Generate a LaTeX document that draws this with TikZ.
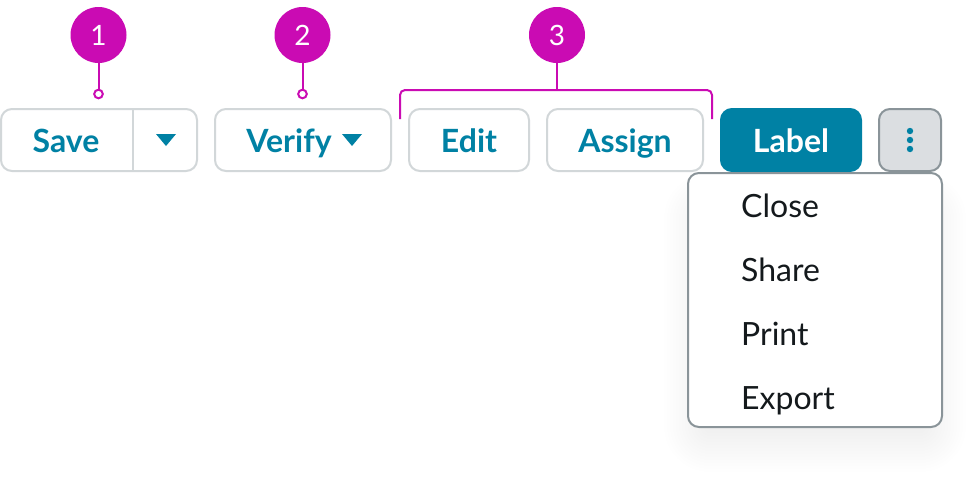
\documentclass[tikz,border=0pt]{standalone}
\usepackage{fontspec}
\setmainfont{Lato}
\definecolor{teal}{HTML}{0081A4}
\definecolor{mag}{HTML}{CA0BB3}
\definecolor{lightb}{HTML}{D2D7D9}
\definecolor{darkb}{HTML}{8A9499}
\definecolor{ink}{HTML}{14191C}
\definecolor{kebab}{HTML}{DBDEE1}
\tikzset{
  x=1pt,y=-1pt,
  btn/.style={draw=lightb,line width=2pt,fill=white,rounded corners=11pt,inner sep=0pt,minimum height=62pt},
  btntext/.style={anchor=base,inner sep=0pt,text=teal,font=\fontsize{32}{32}\selectfont\bfseries},
  badge/.style={circle,fill=mag,text=white,minimum size=56pt,inner sep=0pt,font=\fontsize{28}{28}\selectfont},
  lead/.style={draw=mag,line width=2pt},
  tipdot/.style={circle,draw=mag,line width=2pt,fill=white,minimum size=8.6pt,inner sep=0pt},
  caret/.style={fill=teal},
  item/.style={anchor=base west,inner sep=0pt,text=ink,font=\fontsize{32}{32}\selectfont},
}
\begin{document}
\begin{tikzpicture}
\useasboundingbox (0,0) rectangle (975,485);
\fill[white] (0,0) rectangle (975,485);
% buttons
\node[btn,minimum width=196pt] (save) at (99,140) {};
\node[btntext] (savet) at (66,152) {Save};
\coordinate (divt) at (133,109);
\coordinate (divb) at (133,171);
\draw[lightb,line width=2pt] (divt) -- (divb);
\fill[caret] (156,134) -- (176,134) -- (166,146) -- cycle;
\node[btn,minimum width=176pt] (verify) at (303,140) {};
\node[btntext] (verifyt) at (289,152) {Verify};
\fill[caret] (342,134) -- (362,134) -- (352,146) -- cycle;
\node[btn,minimum width=120pt] (edit) at (469,140) {};
\node[btntext] (editt) at (469,152) {Edit};
\node[btn,minimum width=156pt] (assign) at (625,140) {};
\node[btntext] (assignt) at (625,152) {Assign};
\node[btn,draw=teal,fill=teal,minimum width=140pt] (label) at (791,140) {};
\node[btntext,text=white] (labelt) at (791,152) {Label};
\node[btn,draw=darkb,fill=kebab,minimum width=62pt] (more) at (910,140) {};
\fill[teal] (910,131) circle (3.2pt) (910,140) circle (3.2pt) (910,149) circle (3.2pt);
% shadow
\foreach \g in {42,39,...,0}{
  \fill[black,opacity=0.0042,rounded corners=\g pt+4pt] (706-\g,215-\g) rectangle (924+\g,430+\g);
}
% menu
\node[draw=darkb,line width=2pt,fill=white,rounded corners=11pt,minimum width=254pt,minimum height=254pt,inner sep=0pt] (menu) at (815,300) {};
\node[item] (close) at (741,217) {Close};
\node[item] (share) at (741,281) {Share};
\node[item] (print) at (741,345) {Print};
\node[item] (export) at (741,409) {Export};
% badges
\node[badge] (b1) at (98.5,35) {1};
\node[badge] (b2) at (302.5,35) {2};
\node[badge] (b3) at (557,35) {3};
\node[tipdot] (d1) at (98.5,94) {};
\node[tipdot] (d2) at (302.5,94) {};
\draw[lead] (b1) -- (d1);
\draw[lead] (b2) -- (d2);
\coordinate (bl) at (400,119);
\coordinate (br) at (712,119);
\coordinate (bm) at (b3 |- 0,90);
\draw[lead,rounded corners=5pt] (bl) -- (400,90) -- (712,90) -- (br);
\draw[lead] (b3) -- (bm);
\end{tikzpicture}
\end{document}
